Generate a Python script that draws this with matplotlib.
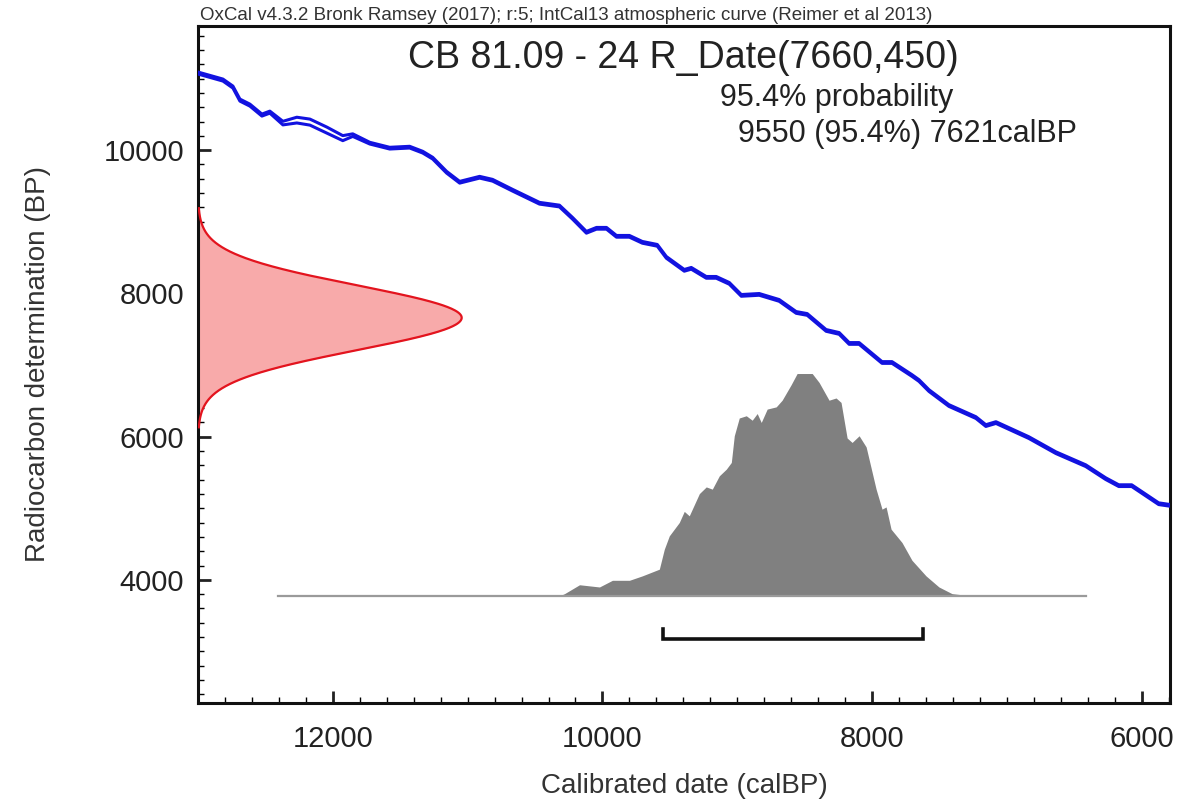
import numpy as np
import matplotlib
matplotlib.use("Agg")
import matplotlib.pyplot as plt
from matplotlib.ticker import MultipleLocator

plt.rcParams['font.family'] = ['Liberation Sans', 'DejaVu Sans']

# ---- data ----
# IntCal13 calibration curve (cal BP -> radiocarbon BP), with 1-sigma half width
curve_cal = [13000, 12815, 12741, 12689, 12615, 12526, 12467, 12370, 12267, 12170,
             12044, 11926, 11852, 11726, 11578, 11430, 11333, 11259, 11156, 11059,
             10911, 10815, 10667, 10467, 10319, 10222, 10119, 10044, 9970, 9896,
             9800, 9704, 9593, 9526, 9393, 9341, 9230, 9156, 9059, 8970,
             8837, 8689, 8563, 8481, 8341, 8244, 8170, 8096, 7926, 7852,
             7704, 7652, 7578, 7430, 7230, 7156, 7081, 6837, 6637, 6415,
             6267, 6170, 6074, 5874, 5790]
curve_bp = [11077, 10979, 10881, 10699, 10629, 10490, 10531, 10378, 10420, 10392,
            10280, 10168, 10210, 10098, 10028, 10042, 9972, 9888, 9692, 9552,
            9622, 9580, 9441, 9259, 9220, 9049, 8853, 8909, 8909, 8797,
            8797, 8713, 8671, 8503, 8322, 8350, 8224, 8224, 8140, 7972,
            7986, 7902, 7734, 7706, 7483, 7441, 7301, 7301, 7035, 7035,
            6853, 6783, 6643, 6434, 6266, 6154, 6196, 5986, 5776, 5594,
            5413, 5315, 5315, 5063, 5040]
curve_err = [14, 14, 14, 14, 14, 14, 14, 25, 40, 42,
             42, 35, 18, 12, 12, 12, 12, 12, 12, 12,
             12, 12, 12, 12, 12, 12, 12, 12, 12, 12,
             12, 12, 12, 12, 12, 12, 12, 12, 12, 12,
             12, 12, 12, 12, 12, 12, 12, 12, 12, 12,
             12, 12, 12, 12, 12, 12, 12, 12, 12, 12,
             12, 12, 12, 12, 12]

# Radiocarbon measurement R_Date(7660,450)
rdate_mean = 7660
rdate_sd = 450

# Calibrated posterior distribution (relative probability)
post_cal = [12407, 10393, 10319, 10281, 10170, 10022, 9926, 9800, 9704, 9578,
            9541, 9504, 9430, 9393, 9356, 9281, 9230, 9185, 9133, 9081,
            9044, 9022, 8985, 8933, 8889, 8852, 8822, 8778, 8711, 8667,
            8600, 8556, 8504, 8444, 8393, 8319, 8267, 8230, 8185, 8148,
            8096, 8044, 7970, 7926, 7896, 7859, 7778, 7704, 7600, 7504,
            7407, 7259, 6415]
post_prob = [0.0, 0.0, 0.0, 0.01, 0.05, 0.04, 0.07, 0.07, 0.09, 0.12,
             0.21, 0.27, 0.33, 0.38, 0.36, 0.46, 0.49, 0.48, 0.54, 0.57,
             0.60, 0.72, 0.80, 0.81, 0.79, 0.82, 0.78, 0.84, 0.85, 0.88,
             0.95, 1.00, 1.00, 1.00, 0.96, 0.88, 0.89, 0.87, 0.71, 0.69,
             0.72, 0.67, 0.48, 0.39, 0.40, 0.30, 0.24, 0.16, 0.09, 0.04,
             0.01, 0.0, 0.0]

# 95.4% range
range_from = 9550
range_to = 7621

title = "CB 81.09 - 24 R_Date(7660,450)"
header = "OxCal v4.3.2 Bronk Ramsey (2017); r:5; IntCal13 atmospheric curve (Reimer et al 2013)"
prob_label = "95.4% probability"
range_label = "9550 (95.4%) 7621calBP"
xlabel = "Calibrated date (calBP)"
ylabel = "Radiocarbon determination (BP)"
xticks = [12000, 10000, 8000, 6000]
yticks = [4000, 6000, 8000, 10000]

# ---- figure ----
W, H = 1184, 807
fig = plt.figure(figsize=(W / 100, H / 100), dpi=100)
ax = fig.add_axes([198 / W, 1 - 703 / H, (1170 - 198) / W, (703 - 26) / H])
ax.set_xlim(13000, 5790)
ax.set_ylim(2280, 11734)

# red radiocarbon measurement curve on the y axis
ys = np.linspace(rdate_mean - 3.4 * rdate_sd, rdate_mean + 3.4 * rdate_sd, 400)
dens = np.exp(-0.5 * ((ys - rdate_mean) / rdate_sd) ** 2)
red_width = 1956
xs = 13000 - red_width * dens
ax.fill_betweenx(ys, 13000, xs, color='#f8aaaa', lw=0, zorder=2)
ax.plot(xs, ys, color='#e3141e', lw=1.6, zorder=3)

# posterior distribution
base = 3776
peak_h = 3105
pc = np.array(post_cal)
pp = np.array(post_prob)
ax.fill_between(pc, base, base + pp * peak_h, color='#808080', lw=0, zorder=2)
ax.plot([post_cal[0], post_cal[-1]], [base, base], color='#9a9a9a', lw=1.6, zorder=2)

# range bracket
ax.plot([range_from, range_from, range_to, range_to],
        [3315, 3175, 3175, 3315], color='#111111', lw=2.6,
        solid_joinstyle='miter', zorder=3)

# calibration curve (two lines: +/- 1 sigma)
cc = np.array(curve_cal)
cb = np.array(curve_bp)
ce = np.array(curve_err)
ax.plot(cc, cb + ce, color='#1212e0', lw=2.2, zorder=4)
ax.plot(cc, cb - ce, color='#1212e0', lw=2.2, zorder=4)

# axes styling
for s in ax.spines.values():
    s.set_linewidth(2.2)
    s.set_color('#111111')
ax.set_xticks(xticks)
ax.set_yticks(yticks)
ax.xaxis.set_minor_locator(MultipleLocator(200))
ax.yaxis.set_minor_locator(MultipleLocator(200))
ax.tick_params(which='major', direction='in', length=9, width=2, labelsize=21,
               colors='#222222', top=False, right=False)
ax.tick_params(which='minor', direction='in', length=4.5, width=1, top=False, right=False)
ax.tick_params(axis='x', pad=16)
ax.tick_params(axis='y', pad=10)
ax.set_xlabel(xlabel, fontsize=20, color='#333333', labelpad=14)
ax.set_ylabel(ylabel, fontsize=20, color='#333333', labelpad=38)

fig.text(683 / W, 1 - 58 / H, title, fontsize=27, ha='center', va='center', color='#222222')
fig.text(720 / W, 1 - 98 / H, prob_label, fontsize=22, ha='left', va='center', color='#222222')
fig.text(738 / W, 1 - 134 / H, range_label, fontsize=22, ha='left', va='center', color='#222222')
fig.text(200 / W, 1 - 15 / H, header, fontsize=13.5, ha='left', va='center', color='#333333')

fig.savefig("out.png", dpi=100, facecolor='white')
